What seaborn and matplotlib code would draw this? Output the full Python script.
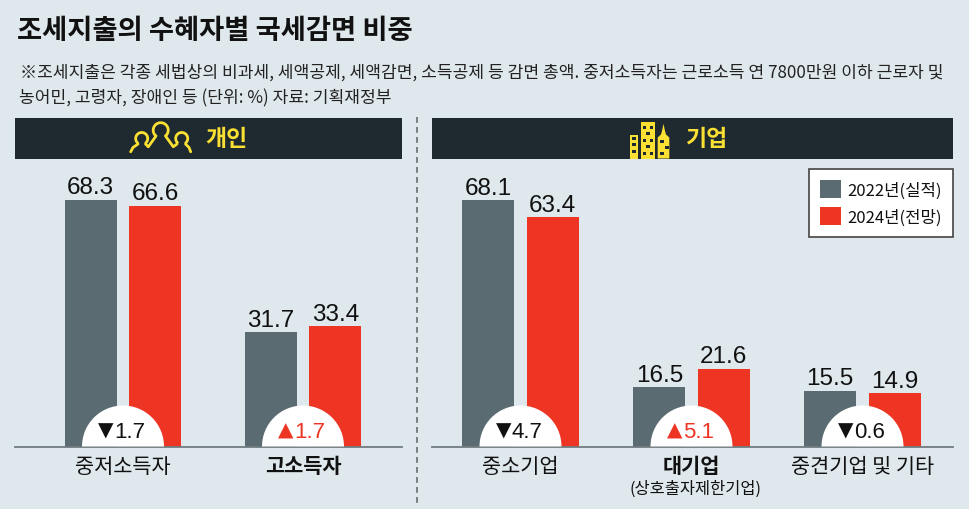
import numpy as np
import pandas as pd
import seaborn as sns
import matplotlib.pyplot as plt
from matplotlib.patches import Rectangle, Wedge, Polygon, Arc

# data
years = ["2022년(실적)", "2024년(전망)"]
person_cats = ["중저소득자", "고소득자"]
person_2022 = [68.3, 31.7]
person_2024 = [66.6, 33.4]
person_delta = ["▼1.7", "▲1.7"]
company_cats = ["중소기업", "대기업", "중견기업 및 기타"]
company_2022 = [68.1, 16.5, 15.5]
company_2024 = [63.4, 21.6, 14.9]
company_delta = ["▼4.7", "▲5.1", "▼0.6"]

BG = "#dfe8ec"
GREY = "#5a6c72"
RED = "#ee3524"
DARK = "#1f2a30"
YEL = "#f9e033"
KR = ["Noto Sans CJK KR", "DejaVu Sans"]
NUM = "Liberation Sans"

sns.set_theme(style="white")
plt.rcParams["font.family"] = KR

W, H = 970, 510
fig = plt.figure(figsize=(W / 100, H / 100), dpi=100, facecolor=BG)


def make_axes(x0, x1, y0, y1):
    return fig.add_axes([x0 / W, 1 - y1 / H, (x1 - x0) / W, (y1 - y0) / H])


# overlay in pixel coords for the decoration
deco = fig.add_axes([0, 0, 1, 1], zorder=5)
deco.set_xlim(0, W)
deco.set_ylim(H, 0)
deco.axis("off")

base_y = 448
top_y = 162
scale = 3.623  # px per percent


def draw_panel(x0, x1, cats, v22, v24, deltas, centers_px, spacing):
    ax = make_axes(x0, x1, top_y, base_y)
    df = pd.DataFrame({
        "cat": cats * 2,
        "year": [years[0]] * len(cats) + [years[1]] * len(cats),
        "val": v22 + v24,
    })
    sns.barplot(data=df, x="cat", y="val", hue="year", palette=[GREY, RED],
                width=129 / spacing, gap=0.194, saturation=1, linewidth=0, ax=ax)
    ax.set_facecolor("none")
    ax.set_xlim((x0 - centers_px) / spacing, (x1 - centers_px) / spacing)
    ax.set_ylim(0, (base_y - top_y) / scale)
    ax.set_xlabel("")
    ax.set_ylabel("")
    ax.set_yticks([])
    sns.despine(ax=ax, left=True)
    ax.spines["bottom"].set_color("#707c80")
    ax.spines["bottom"].set_linewidth(1.3)
    ax.tick_params(axis="x", length=0, pad=6, labelsize=15, labelcolor="#111111")
    for c in ax.containers:
        ax.bar_label(c, fmt="%.1f", padding=1, fontsize=17.5, family=NUM, color="#111111")
    for i, d in enumerate(deltas):
        cx, cy = ax.transData.transform((i, 0))
        deco.add_patch(Wedge((cx, base_y - 0.5), 41, 180, 360, fc="white", ec="none"))
        col = RED if d[0] == "▲" else "#111111"
        deco.text(cx - 17, 431, d[0], ha="center", va="center", fontsize=14.5,
                  color=col, family="DejaVu Sans")
        deco.text(cx - 8.5, 432.5, d[1:], ha="left", va="center", fontsize=16,
                  color=col, family=NUM)
    return ax


ax_l = draw_panel(15, 402, person_cats, person_2022, person_2024, person_delta, 123, 180)
ax_r = draw_panel(432, 953, company_cats, company_2022, company_2024, company_delta, 520.5, 171)

ax_l.get_legend().remove()
handles, labels = ax_r.get_legend_handles_labels()
ax_r.get_legend().remove()
leg = deco.legend(handles, labels, loc="upper right", bbox_to_anchor=(953 / W, 1 - 170 / H),
                  bbox_transform=fig.transFigure, fontsize=12, frameon=True, fancybox=False,
                  edgecolor="#444444", facecolor="white", framealpha=1, borderaxespad=0,
                  handlelength=1.28, handleheight=1.28, handletextpad=0.36,
                  labelspacing=0.52, borderpad=0.66, labelcolor="#111111")
leg.get_frame().set_linewidth(1.2)

ax_l.get_xticklabels()[1].set_fontweight("bold")
ax_r.get_xticklabels()[1].set_fontweight("bold")
deco.text(695.5, 489, "(상호출자제한기업)", ha="center", va="center", fontsize=11.8, color="#111111")

# title and note
fig.text(17 / W, 1 - 31 / H, "조세지출의 수혜자별 국세감면 비중", fontsize=19.7, fontweight="bold",
         va="center", color="#111111")
deco.text(20, 73, "※조세지출은 각종 세법상의 비과세, 세액공제, 세액감면, 소득공제 등 감면 총액. "
          "중저소득자는 근로소득 연 7800만원 이하 근로자 및", fontsize=12.3, va="center", color="#222222")
deco.text(19, 98, "농어민, 고령자, 장애인 등 (단위: %) 자료: 기획재정부", fontsize=12.3, va="center", color="#222222")

# header bars
for x0, x1, txt, tx in [(15, 402, "개인", 226), (432, 953, "기업", 706)]:
    deco.add_patch(Rectangle((x0, 118.5), x1 - x0, 41, fc=DARK, ec="none"))
    deco.text(tx, 140, txt, ha="center", va="center", color=YEL, fontsize=16.5, fontweight="bold")

# divider
deco.plot([417, 417], [118, 506], color="#666e72", lw=1.2, ls=(0, (3.5, 2.5)))

# people icon
icon = dict(color=YEL, lw=2, solid_capstyle="round", solid_joinstyle="round")
for cx, cy, r in [(141.7, 139.5, 6), (160.7, 131.2, 7.5), (181.7, 139.5, 6)]:
    deco.add_patch(Arc((cx, cy), 2 * r, 2 * r, theta1=125, theta2=55, ec=YEL, lw=2))
deco.plot([130.7, 133, 138], [152.8, 148.5, 145], **icon)
deco.plot([145.5, 148.3, 156], [145, 147.8, 137], **icon)
deco.plot([165.5, 173.3, 177], [137, 147.8, 145], **icon)
deco.plot([185.5, 189, 190.7], [145, 148.5, 152.8], **icon)

# building icon
deco.add_patch(Rectangle((630, 135.5), 8.3, 24, fc=YEL, ec="none"))
deco.add_patch(Rectangle((641, 123), 14, 36.5, fc=YEL, ec="none"))
deco.add_patch(Polygon([(657.7, 159.5), (657.7, 138.5), (661, 135.5), (662, 132), (663.5, 124.8),
                        (665, 132), (666, 135.5), (669.3, 138.5), (669.3, 159.5)], fc=YEL, ec="none"))
for x, y in [(632.5, 138), (632.5, 143.5), (632.5, 150.5)] + \
        [(643, 126.5), (650, 126.5), (646.5, 133), (643, 139.5), (650, 139.5),
         (646.5, 146), (643, 152.5), (650, 152.5)] + \
        [(660.5, 141), (665.5, 146.5), (660.5, 152.5)]:
    deco.add_patch(Rectangle((x, y), 3.2, 3.2, fc=DARK, ec="none"))

fig.savefig("out.png", dpi=100, facecolor=BG)
